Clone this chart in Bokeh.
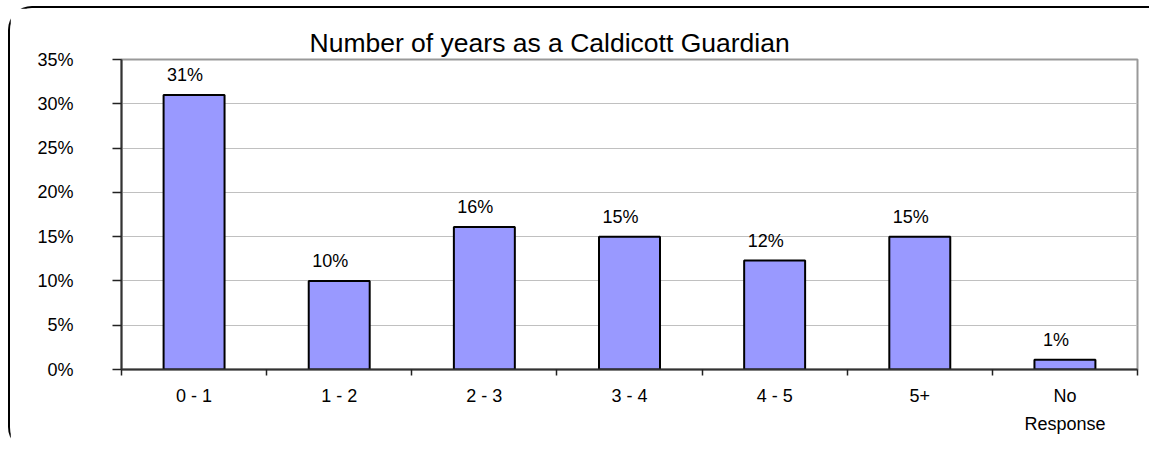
from bokeh.plotting import figure
from bokeh.models import FixedTicker, ColumnDataSource, Range1d
from bokeh.core.properties import value
from bokeh.embed import file_html
from bokeh.resources import INLINE

categories = ["0 - 1", "1 - 2", "2 - 3", "3 - 4", "4 - 5", "5+", "No\nResponse"]
percent_values = [31.0, 10.0, 16.1, 15.0, 12.3, 15.0, 1.1]
value_labels = ["31%", "10%", "16%", "15%", "12%", "15%", "1%"]
y_ticks = [0, 5, 10, 15, 20, 25, 30, 35]
y_tick_labels = ["0%", "5%", "10%", "15%", "20%", "25%", "30%", "35%"]
title_text = "Number of years as a Caldicott Guardian"

FONT = "Liberation Sans"

n = len(categories)
xs = [i + 0.5 for i in range(n)]
src = ColumnDataSource(dict(x=xs, top=percent_values, lab=value_labels))

p = figure(width=1141, height=445, output_backend="svg", toolbar_location=None,
           x_range=Range1d(0, n), y_range=Range1d(0, 35),
           min_border_left=111, min_border_right=14, min_border_top=51, min_border_bottom=84)
p.styles = {"margin-left": "8px", "margin-top": "6px",
            "border-top": "2px solid black", "border-left": "2px solid black",
            "border-top-left-radius": "24px", "border-bottom-left-radius": "24px"}

p.title.text = title_text
p.title.text_font = FONT
p.title.text_font_size = "26.5px"
p.title.text_font_style = "normal"
p.title.text_color = "black"
p.title.align = "left"
p.title.offset = 188
p.title.standoff = 4

p.outline_line_color = "#999999"
p.outline_line_width = 2

p.vbar(x="x", top="top", width=0.42, bottom=0, source=src,
       fill_color="#9999FF", line_color="black", line_width=2)
p.text(x="x", y="top", text="lab", source=src, text_font=value(FONT),
       text_font_size="18px", text_align="center", text_baseline="alphabetic",
       x_offset=-9, y_offset=-20, text_color="black")

# y axis
yax = p.yaxis[0]
yax.ticker = FixedTicker(ticks=y_ticks)
yax.major_label_overrides = {t: l for t, l in zip(y_ticks, y_tick_labels)}
yax.major_label_text_font = FONT
yax.major_label_text_font_size = "18px"
yax.major_label_text_color = "black"
yax.major_tick_out = 9
yax.major_tick_in = 0
yax.minor_tick_line_color = None
yax.major_tick_line_color = "#222222"
yax.major_tick_line_width = 1.5
yax.axis_line_color = "#333333"
yax.axis_line_width = 2
yax.major_label_standoff = 39

# x axis
xax = p.xaxis[0]
xax.ticker = FixedTicker(ticks=xs, minor_ticks=list(range(n + 1)))
xax.major_label_overrides = {x: c for x, c in zip(xs, categories)}
xax.major_label_text_font = FONT
xax.major_label_text_font_size = "18px"
xax.major_label_text_color = "black"
xax.major_label_text_line_height = 1.4
xax.major_tick_out = 0
xax.major_tick_in = 0
xax.major_tick_line_color = None
xax.minor_tick_out = 6
xax.minor_tick_in = 0
xax.minor_tick_line_color = "#222222"
xax.minor_tick_line_width = 1.5
xax.axis_line_color = "#333333"
xax.axis_line_width = 2
xax.major_label_standoff = 10

p.xgrid.grid_line_color = None
p.ygrid.ticker = FixedTicker(ticks=y_ticks)
p.ygrid.grid_line_color = "#c0c0c0"
p.ygrid.grid_line_width = 1

open("out.html", "w").write(file_html(p, INLINE))
